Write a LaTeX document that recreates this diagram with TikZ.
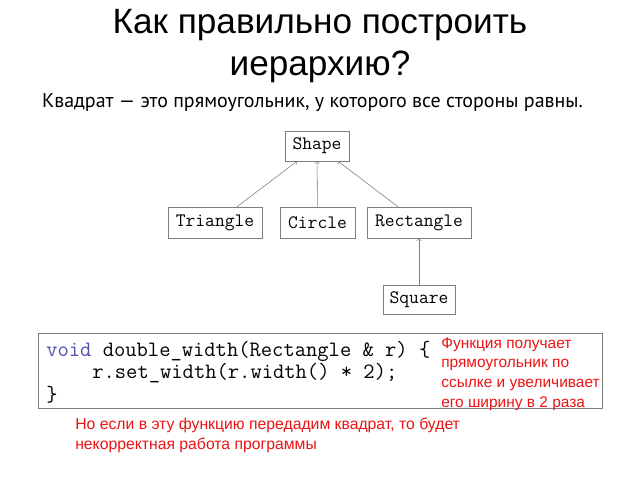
\documentclass[tikz,border=0pt]{standalone}
\usepackage{fontspec}
\setmainfont{Liberation Sans}
\newfontfamily\subfont{PT Sans}
\usepackage{xcolor}
\definecolor{kwblue}{RGB}{80,80,170}
\definecolor{boxgray}{RGB}{125,125,125}
\definecolor{notered}{RGB}{235,20,20}
\tikzset{
  cls/.style={draw=boxgray, font=\ttfamily\fontsize{13.5}{14}\selectfont,
    minimum height=0.775cm, inner sep=0pt},
  inh/.style={->, draw=boxgray}
}

\begin{document}
\begin{tikzpicture}[x=0.025cm, y=-0.025cm]
    \useasboundingbox (0,0) rectangle (640,480);
    \node[font=\fontsize{25}{29.5}\selectfont, align=center] (title) at (320,46) {Как правильно построить\\иерархию?};
    \node[font=\subfont\fontsize{14.2}{16}\selectfont] (def) at (312.5,103) {Квадрат — это прямоугольник, у которого все стороны равны.};
    % class hierarchy
    \node[cls, minimum width=1.6cm, minimum height=0.75cm] (Shape) at (317,146) {Shape};
    \node[cls, minimum width=2.35cm] (Triangle) at (215,222.5) {Triangle};
    \node[cls, minimum width=1.875cm] (Circle) at (317.5,222.5) {Circle};
    \node[cls, minimum width=2.6cm] (Rectangle) at (419,222.5) {Rectangle};
    \node[cls, minimum width=1.8cm, minimum height=0.725cm] (Square) at (419,299.5) {Square};
    \draw[inh] ([xshift=0.55cm]Triangle.north) -- ([xshift=-0.5cm]Shape.south);
    \draw[inh] (Circle) -- (Shape);
    \draw[inh] ([xshift=-0.525cm]Rectangle.north) -- ([xshift=0.525cm]Shape.south);
    \draw[inh] (Square) -- (Rectangle);
    % code
    \node[draw=boxgray, minimum width=14.1cm, minimum height=1.875cm, inner sep=0pt] (code) at (320,370.5) {};
    \node[anchor=west, align=left, inner sep=0pt, font=\ttfamily\fontsize{15.6}{16}\selectfont] (src) at (46,372)
        {\textcolor{kwblue}{void} double\_width(Rectangle \& r) \{\\
         \hspace*{2.1em}r.set\_width(r.width() * 2);\\
         \}};
    \node[anchor=north west, align=left, inner sep=0pt, text=notered, font=\fontsize{11}{14}\selectfont] (note) at (441,337)
        {Функция получает\\прямоугольник по\\ссылке и увеличивает\\его ширину в 2 раза};
    \node[anchor=west, align=left, inner sep=0pt, text=notered, font=\fontsize{11.2}{14.2}\selectfont] (warn) at (75,435)
        {Но если в эту функцию передадим квадрат, то будет\\некорректная работа программы};
\end{tikzpicture}
\end{document}
